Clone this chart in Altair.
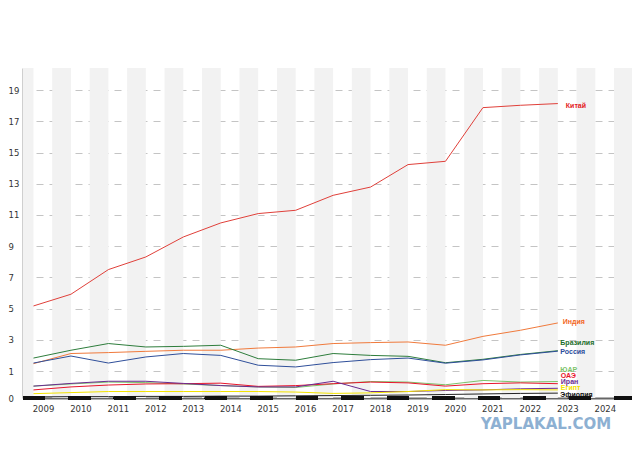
import altair as alt
import pandas as pd

years = list(range(2009, 2024))
china = [5.17, 5.92, 7.50, 8.31, 9.59, 10.49, 11.09, 11.30, 12.26, 12.79, 14.23, 14.44, 17.88, 18.03, 18.14]
india = [1.47, 2.12, 2.18, 2.26, 2.33, 2.33, 2.47, 2.54, 2.76, 2.82, 2.86, 2.65, 3.22, 3.61, 4.08]
brazil = [1.83, 2.33, 2.76, 2.54, 2.58, 2.65, 1.79, 1.69, 2.12, 2.00, 1.94, 1.53, 1.75, 2.06, 2.30]
russia = [1.51, 1.96, 1.51, 1.90, 2.12, 2.00, 1.37, 1.26, 1.54, 1.73, 1.83, 1.50, 1.71, 2.03, 2.27]
south_africa = [0.44, 0.52, 0.59, 0.57, 0.52, 0.46, 0.41, 0.39, 0.52, 0.61, 0.59, 0.49, 0.65, 0.59, 0.61]
uae = [0.30, 0.41, 0.48, 0.52, 0.53, 0.55, 0.43, 0.46, 0.53, 0.59, 0.56, 0.44, 0.53, 0.56, 0.53]
iran = [0.44, 0.54, 0.62, 0.62, 0.54, 0.46, 0.41, 0.41, 0.62, 0.24, 0.24, 0.28, 0.30, 0.34, 0.36]
egypt = [0.16, 0.20, 0.24, 0.24, 0.24, 0.24, 0.24, 0.22, 0.17, 0.19, 0.24, 0.31, 0.30, 0.31, 0.30]
ethiopia = [0.04, 0.05, 0.05, 0.06, 0.06, 0.07, 0.07, 0.08, 0.09, 0.10, 0.11, 0.13, 0.15, 0.17, 0.18]

names = ["Китай", "Индия", "Бразилия", "Россия", "ЮАР", "ОАЭ", "Иран", "Египт", "Эфиопия"]
series = [china, india, brazil, russia, south_africa, uae, iran, egypt, ethiopia]
axis_years = list(range(2009, 2025))
y_ticks = [0, 1, 3, 5, 7, 9, 11, 13, 15, 17, 19]

# styles
line_colors = ["#e0403a", "#f07a3c", "#2e7d3c", "#2f4f9a", "#7cc36a", "#e8162c", "#6a2c91", "#f3e300", "#222222"]
label_colors = ["#e31a1c", "#f26522", "#1b6e2a", "#2b4c9b", "#7cc36a", "#e8162c", "#6a2c91", "#f3e300", "#111111"]
label_dx = [8, 5, 2.5, 2.5, 2.5, 3, 3, 3, 2.5]
label_dy = [2.7, -0.7, -8, 0.5, -12, -8, -6.7, -2, 1.5]

W, H = 609, 330
X0, X1 = 2008.72, 2024.98

rows = []
for n, s in zip(names, series):
    for yr, v in zip(years, s):
        rows.append({"name": n, "year": yr, "value": v})
df = pd.DataFrame(rows)

band_rows = [{"a": X0, "b": 2009}]
for yr in range(2010, 2026):
    band_rows.append({"a": yr - 0.5, "b": min(yr, X1)})
bands = pd.DataFrame(band_rows)

xscale = alt.Scale(domain=[X0, X1], nice=False, zero=False)
yscale = alt.Scale(domain=[0, 1, 20.42], range=[H, H - 27, 0], nice=False, zero=False)

band_layer = alt.Chart(bands).mark_rect(color="#f2f2f2").encode(
    x=alt.X("a:Q", scale=xscale,
            axis=alt.Axis(values=axis_years, tickCount=100, format="d", title=None, ticks=False, grid=False,
                          labelOffset=9.5, labelPadding=6, labelFont="DejaVu Sans", labelFontSize=8.5,
                          labelColor="#333333", domainColor="#666666", domainWidth=2,
                          labelFlush=False, labelOverlap=False)),
    x2="b:Q",
    y=alt.value(0),
    y2=alt.value(H),
)

lines = alt.Chart(df).mark_line(strokeWidth=1).encode(
    x=alt.X("year:Q", scale=xscale),
    y=alt.Y("value:Q", scale=yscale,
            axis=alt.Axis(values=y_ticks, tickCount=100, format="d", title=None, ticks=False, grid=True,
                          gridDash=[7, 6], gridColor="#c4c4c4", gridWidth=1, labelAlign="left", labelPadding=15,
                          labelFont="DejaVu Sans", labelFontSize=8.5, labelColor="#333333",
                          domainColor="#a0a0a0", domainWidth=2, labelOverlap=False)),
    color=alt.Color("name:N", scale=alt.Scale(domain=names[::-1], range=line_colors[::-1]), legend=None),
    order=alt.Order("year:Q"),
)

dash_rule = alt.Chart(df).mark_rule(color="#111111", strokeWidth=2.5, strokeDash=[22, 23.5]).encode(
    x=alt.value(0), x2=alt.value(W), y=alt.value(H)
)

label_layers = []
for n, s, c, dx, dy in zip(names, series, label_colors, label_dx, label_dy):
    ldf = pd.DataFrame([{"name": n, "year": years[-1], "value": s[-1]}])
    label_layers.append(
        alt.Chart(ldf).mark_text(align="left", baseline="middle", dx=dx, dy=dy, fontWeight="bold",
                                 fontSize=7, font="Liberation Sans Narrow, Arial Narrow, Liberation Sans",
                                 color=c).encode(
            x=alt.X("year:Q", scale=xscale),
            y=alt.Y("value:Q", scale=yscale),
            text="name:N",
        )
    )

watermark = alt.Chart(pd.DataFrame([{"t": "YAPLAKAL.COM"}])).mark_text(
    font="DejaVu Sans", fontWeight="bold", fontSize=15, color="#8db0d2", align="center", baseline="middle"
).encode(x=alt.value(523), y=alt.value(356), text="t:N")

chart = alt.layer(band_layer, lines, dash_rule, *label_layers, watermark).properties(
    width=W, height=H,
    autosize=alt.AutoSizeParams(type="none"),
    padding={"left": 15, "top": 60, "right": 0, "bottom": 40},
    background="white",
).configure_view(stroke=None)

chart.save("out.html", embed_options={"renderer": "svg", "actions": False})
